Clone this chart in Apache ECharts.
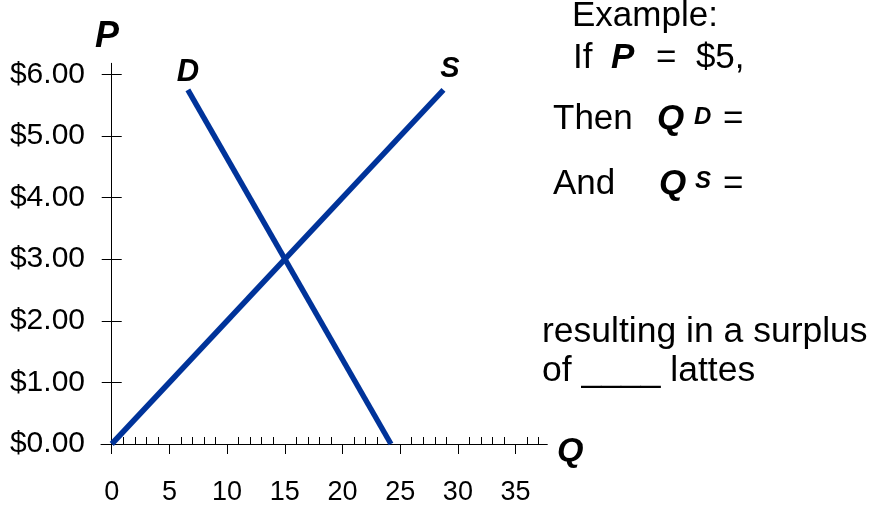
<!DOCTYPE html>
<html><head><meta charset="utf-8">
<script src="https://cdn.jsdelivr.net/npm/echarts@6/dist/echarts.min.js"></script>
<style>html,body{margin:0;padding:0;background:#fff}#c{width:882px;height:512px}</style>
</head><body><div id="c"></div>
<script>
// ---- data ----
const demandQ = [24.2, 6.6];
const demandP = [0, 5.75];
const supplyQ = [0, 28.75];
const supplyP = [0, 5.75];
const xMajorTicks = [0, 5, 10, 15, 20, 25, 30, 35];
const xMinorTicks = [1, 2, 3, 4, 6, 7, 8, 9, 11, 12, 13, 14, 16, 17, 18, 19, 21, 22, 23, 24, 26, 27, 28, 29, 31, 32, 33, 34, 36, 37];
const yTicks = [0, 1, 2, 3, 4, 5, 6];
const seriesNames = ['D', 'S'];
const axisNames = ['Q', 'P'];

// ---- style ----
const FONT = '"Liberation Sans", Arial, Helvetica, sans-serif';
const BLUE = '#00339a';
const xMin = -0.93, xMax = 37.75, yMin = 0, yMax = 6.18;

function pairs(a, b) { return a.map((v, i) => [v, b[i]]); }

function txt(text, x, y, size, opts) {
  opts = opts || {};
  return {
    type: 'text', x: x, y: y, silent: true,
    style: {
      text: text, fill: '#000', fontFamily: FONT, fontSize: size,
      fontWeight: opts.bold ? 'bold' : 'normal',
      fontStyle: opts.italic ? 'italic' : 'normal',
      align: 'left', verticalAlign: 'middle',
      textAlign: 'left', textVerticalAlign: 'middle'
    }
  };
}
const BI = { bold: true, italic: true };

const chart = echarts.init(document.getElementById('c'), null, { renderer: 'canvas' });
const option = {
  animation: false,
  backgroundColor: '#fff',
  grid: { left: 101, right: 334.7, top: 63.3, bottom: 68, containLabel: false },
  xAxis: [
    {
      type: 'value', position: 'bottom', min: xMin, max: xMax,
      axisLine: { show: true, onZero: true, lineStyle: { color: '#000', width: 1 } },
      axisTick: { show: true, inside: false, length: 10, customValues: xMajorTicks, lineStyle: { color: '#000', width: 1 } },
      axisLabel: { show: true, customValues: xMajorTicks, margin: 35, fontFamily: FONT, fontSize: 27, color: '#000' },
      splitLine: { show: false }
    },
    {
      type: 'value', position: 'bottom', min: xMin, max: xMax,
      axisLine: { show: false, onZero: true },
      axisTick: { show: true, inside: true, length: 7, customValues: xMinorTicks, lineStyle: { color: '#000', width: 1 } },
      axisLabel: { show: false },
      splitLine: { show: false }
    }
  ],
  yAxis: [
    {
      type: 'value', position: 'left', min: yMin, max: yMax,
      axisLine: { show: true, onZero: true, onZeroAxisIndex: 0, lineStyle: { color: '#000', width: 1 } },
      axisTick: { show: true, inside: false, length: 10, customValues: yTicks, lineStyle: { color: '#000', width: 1 } },
      axisLabel: { show: true, customValues: yTicks, margin: 16, fontFamily: FONT, fontSize: 30, color: '#000',
        formatter: v => '$' + Number(v).toFixed(2) },
      splitLine: { show: false }
    },
    {
      type: 'value', position: 'left', min: yMin, max: yMax,
      axisLine: { show: false, onZero: true, onZeroAxisIndex: 0 },
      axisTick: { show: true, inside: true, length: 10, customValues: yTicks, lineStyle: { color: '#000', width: 1 } },
      axisLabel: { show: false },
      splitLine: { show: false }
    }
  ],
  series: [
    {
      name: seriesNames[0], type: 'line', data: pairs(demandQ, demandP),
      showSymbol: false, symbol: 'none',
      lineStyle: { color: BLUE, width: 5.5, cap: 'butt' }, itemStyle: { color: BLUE },
      endLabel: { show: true, formatter: seriesNames[0], distance: 0, align: 'center', verticalAlign: 'middle',
        offset: [0, -17], fontFamily: FONT, fontSize: 31, fontWeight: 'bold', fontStyle: 'italic', color: '#000' }
    },
    {
      name: seriesNames[1], type: 'line', data: pairs(supplyQ, supplyP),
      showSymbol: false, symbol: 'none',
      lineStyle: { color: BLUE, width: 5.5, cap: 'butt' }, itemStyle: { color: BLUE },
      endLabel: { show: true, formatter: seriesNames[1], distance: 0, align: 'center', verticalAlign: 'middle',
        offset: [6.5, -21], fontFamily: FONT, fontSize: 29, fontWeight: 'bold', fontStyle: 'italic', color: '#000' }
    }
  ],
  graphic: [
    txt(axisNames[1], 95, 37, 36, BI),
    txt(axisNames[0], 557, 452, 34, BI),
    txt('Example:', 572, 16, 35),
    txt('If', 573, 58, 35),
    txt('P', 611, 58, 35, BI),
    txt('=  $5,', 656, 58, 35),
    txt('Then', 553, 119, 35),
    txt('Q', 657, 119, 35, BI),
    txt('D', 694, 117, 24, BI),
    txt('=', 723, 119, 35),
    txt('And', 553, 184, 35),
    txt('Q', 659, 184, 35, BI),
    txt('S', 695, 181, 24, BI),
    txt('=', 723, 184, 35),
    txt('resulting in a surplus', 542, 332, 35.5),
    txt('of ____ lattes', 542, 371, 35.5)
  ]
};
chart.setOption(option);
</script>
</body></html>
